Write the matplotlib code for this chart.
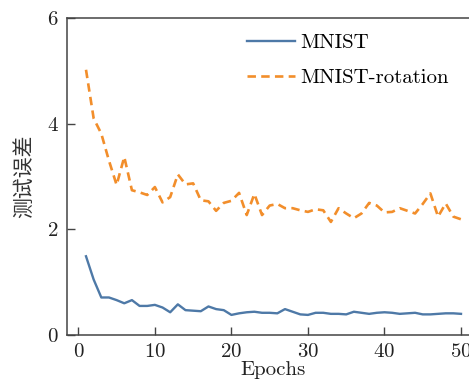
import matplotlib
matplotlib.use("Agg")
import matplotlib.pyplot as plt

plt.rcParams['font.family'] = ['cmr10', 'Noto Sans CJK SC', 'DejaVu Sans']
plt.rcParams['mathtext.fontset'] = 'cm'
plt.rcParams['axes.formatter.use_mathtext'] = True

epochs = list(range(1, 51))

mnist = [1.49, 1.05, 0.71, 0.71, 0.66, 0.60, 0.66, 0.55, 0.55, 0.57,
         0.52, 0.43, 0.58, 0.47, 0.46, 0.45, 0.54, 0.49, 0.47, 0.38,
         0.41, 0.43, 0.44, 0.42, 0.42, 0.41, 0.49, 0.44, 0.39, 0.38,
         0.42, 0.42, 0.40, 0.40, 0.39, 0.44, 0.42, 0.40, 0.42, 0.43,
         0.42, 0.40, 0.41, 0.42, 0.39, 0.39, 0.40, 0.41, 0.41, 0.40]

mnist_rot = [5.02, 4.10, 3.81, 3.30, 2.84, 3.37, 2.74, 2.70, 2.65, 2.80,
             2.51, 2.61, 3.04, 2.85, 2.87, 2.55, 2.53, 2.35, 2.50, 2.54,
             2.69, 2.27, 2.67, 2.27, 2.45, 2.48, 2.40, 2.40, 2.36, 2.33,
             2.38, 2.36, 2.14, 2.40, 2.30, 2.21, 2.30, 2.50, 2.45, 2.32,
             2.33, 2.40, 2.35, 2.30, 2.48, 2.68, 2.24, 2.49, 2.24, 2.19]

fig = plt.figure(figsize=(4.69, 3.87), dpi=100)
ax = fig.add_axes([0.1429, 0.1344, 1.02 - 0.1429, 0.9535 - 0.1344])

ax.plot(epochs, mnist, color='#4E79A7', lw=1.7, label='MNIST')
ax.plot(epochs, mnist_rot, color='#F28E2B', lw=1.9, dashes=(3.2, 2.0),
        label='MNIST-rotation')

ax.set_xlim(-1.48, 52.27)
ax.set_ylim(0, 6)
ax.set_xticks([0, 10, 20, 30, 40, 50])
ax.set_yticks([0, 2, 4, 6])

for s in ax.spines.values():
    s.set_color('#444444')
    s.set_linewidth(1.1)
ax.tick_params(direction='in', length=6, width=1, color='#444444',
               labelsize=15, pad=6, labelcolor='#222222')

ax.set_xlabel('Epochs', fontsize=15, labelpad=0, color='#222222')
ax.set_ylabel('测试误差', fontsize=15, family=['Noto Sans CJK SC'],
              labelpad=8, color='#333333')

ax.legend(loc='upper left', bbox_to_anchor=(0.393, 1.01), frameon=False,
          fontsize=15, handlelength=2.3, handletextpad=0.25, labelspacing=0.8)

fig.savefig('out.png', dpi=100)
